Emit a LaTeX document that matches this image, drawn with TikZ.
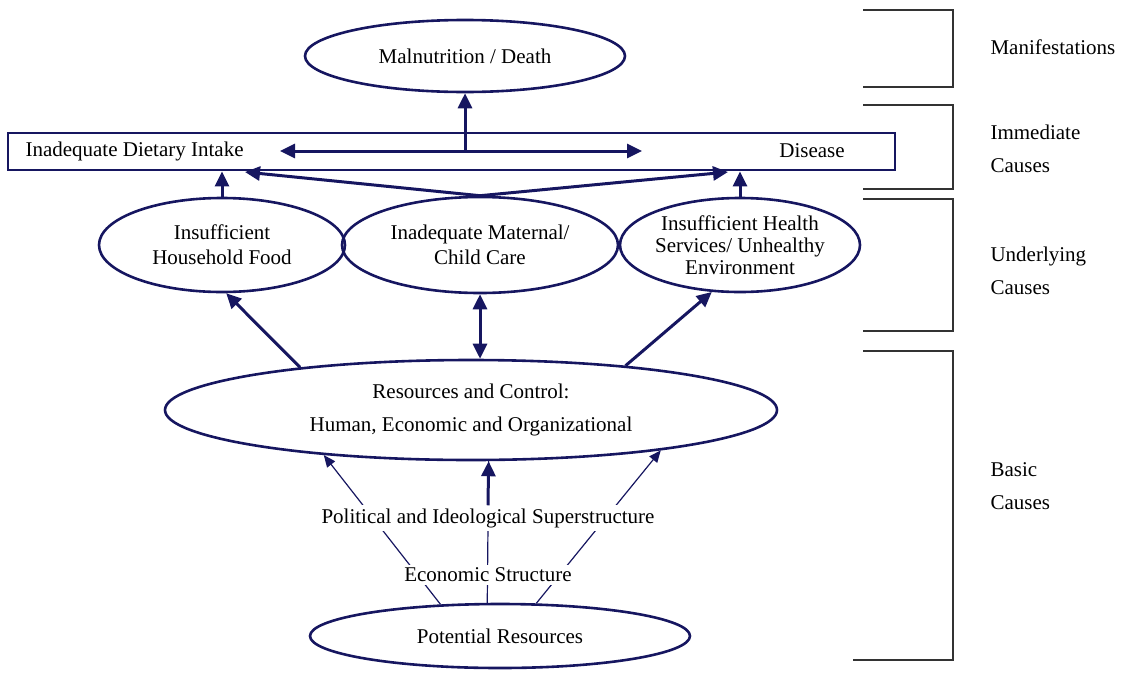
\documentclass[tikz,border=0pt]{standalone}
\usepackage{fontspec}
\setmainfont{Liberation Serif}
\usetikzlibrary{shapes.geometric,arrows.meta}
\definecolor{ink}{RGB}{22,22,96}
\tikzset{%
  cause/.style  = {shape=ellipse, draw=ink, line width=2.6pt,%
                   align=center, inner sep=0pt},%
  strip/.style  = {shape=rectangle, draw=ink, line width=2.8pt},%
  push/.style   = {draw=ink, line width=3pt,%
                   -{Triangle[length=15pt,width=14pt]}},%
  twoway/.style = {push, {Triangle[length=15pt,width=14pt]}-{Triangle[length=15pt,width=14pt]}},%
  feed/.style   = {draw=ink, line width=1.2pt},%
  rim/.style    = {draw=black!80, line width=1.4pt},%
  tier/.style   = {anchor=west, align=left, font=\fontsize{21}{33}\selectfont}%
}
\begin{document}
\begin{tikzpicture}[x=1pt,y=-1pt,
	every node/.style = {font=\fontsize{21}{25}\selectfont, text=black}]
	\useasboundingbox (0,0) rectangle (1124,675);
	\node[cause, minimum width=320, minimum height=72] (death) at (465,56) {Malnutrition / Death};
	\node[strip, minimum width=887, minimum height=37] (bar) at (451.5,151.5) {};
	\node[anchor=west] (intake) at (22,151) {Inadequate Dietary Intake};
	\node (disease) at (812,151) {Disease};
	\coordinate (hub) at (465,151);
	\coordinate (tipI) at (280,151);
	\coordinate (tipD) at (642,151);
	\coordinate (dietI) at (245,172);
	\coordinate (dietD) at (728,172);
	\node[cause, minimum width=246, minimum height=94] (food) at (222,245) {Insufficient\\Household Food};
	\node[cause, minimum width=276, minimum height=96] (care) at (480,245) {Inadequate Maternal/\\Child Care};
	\node[cause, minimum width=240, minimum height=94, font=\fontsize{21}{22}\selectfont] (health) at (740,245) {Insufficient Health\\Services/ Unhealthy\\Environment};
	\node[cause, minimum width=612, minimum height=100] (res) at (471,410) {Resources and Control:\\[8pt]Human, Economic and Organizational};
	\node[cause, minimum width=380, minimum height=64] (pot) at (500,636) {Potential Resources};
	\draw[push] (hub) -- (death);
	\draw[twoway] (tipI) -- (tipD);
	\draw[push] (food.north) -- (food.north |- bar.south);
	\draw[push] (care.north) -- (dietI);
	\draw[push] (care.north) -- (dietD);
	\draw[push] (health.north) -- (health.north |- bar.south);
	\draw[push] (res.166) -- (food.-85);
	\draw[twoway] (care.south) -- (care.south |- res.north);
	\draw[push] (res.16) -- (health.-121);
	\draw[feed, -{Triangle[length=12pt,width=10pt]}] (pot.152) -- (res.-163);
	\draw[feed] (pot.111) -- (res.-71);
	\draw[feed, -{Triangle[length=12pt,width=10pt]}] (pot.42) -- (res.-12);
	\node[fill=white, inner sep=3pt] (pol) at (488,518) {Political and Ideological Superstructure};
	\node[fill=white, inner sep=3pt] (eco) at (488,575) {Economic Structure};
	\draw[push] (pol.north) -- (res.-71);
	\draw[rim] (863,10) -| (953,87) -- (863,87);
	\draw[rim] (863,105) -| (953,189) -- (863,189);
	\draw[rim] (863,199) -| (953,331) -- (863,331);
	\draw[rim] (863,351) -| (953,660) -- (853,660);
	\node[tier] (manif) at (987,47) {Manifestations};
	\node[tier] (immed) at (987,148.5) {Immediate\\Causes};
	\node[tier] (under) at (987,271) {Underlying\\Causes};
	\node[tier] (basic) at (987,486) {Basic\\Causes};
\end{tikzpicture}
\end{document}
